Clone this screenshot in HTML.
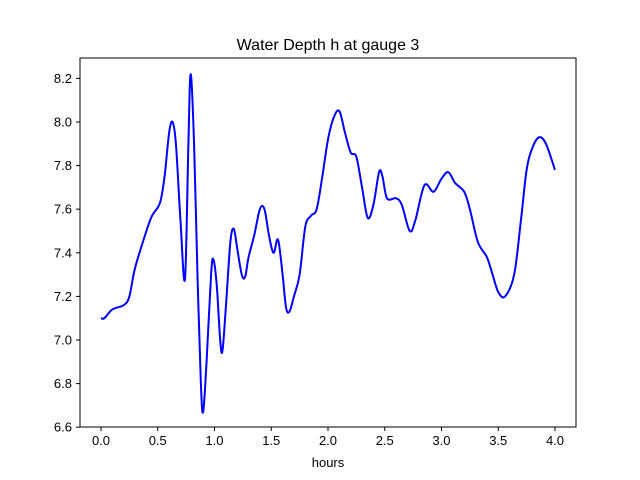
<!DOCTYPE html>
<html><head><meta charset="utf-8"><style>
body{margin:0;background:#fff;}
svg{display:block;font-family:"Liberation Sans","DejaVu Sans",sans-serif;}
</style></head><body>
<svg id="chart" width="640" height="480">
<rect x="0" y="0" width="640" height="480" fill="#fff"/>
<text x="328" y="50" text-anchor="middle" font-size="16">Water Depth h at gauge 3</text>
<g id="ticks"></g>
<path id="line" fill="none" stroke="#0000ff" stroke-width="2"/>
<rect x="80" y="58" width="496" height="369" fill="none" stroke="#000" stroke-width="1"/>
<text x="328" y="467" text-anchor="middle" font-size="13">hours</text>
</svg>
<script>
const times=[0,0.03,0.1,0.2,0.25,0.3,0.4,0.45,0.52,0.56,0.6,0.63,0.66,0.7,0.74,0.77,0.79,0.82,0.85,0.88,0.9,0.93,0.97,0.99,1.02,1.05,1.07,1.1,1.14,1.17,1.2,1.24,1.27,1.3,1.35,1.4,1.44,1.48,1.52,1.56,1.6,1.63,1.66,1.7,1.75,1.8,1.85,1.9,1.95,2.0,2.05,2.1,2.15,2.2,2.25,2.3,2.35,2.4,2.45,2.48,2.52,2.6,2.65,2.72,2.77,2.85,2.93,3.0,3.06,3.12,3.2,3.25,3.32,3.4,3.45,3.5,3.56,3.64,3.7,3.75,3.8,3.86,3.92,4.0];
const depths=[7.10,7.10,7.14,7.16,7.2,7.33,7.5,7.57,7.63,7.75,7.95,8.0,7.9,7.55,7.28,7.9,8.22,7.9,7.3,6.8,6.67,6.9,7.3,7.37,7.25,7.0,6.95,7.15,7.45,7.51,7.42,7.3,7.29,7.38,7.48,7.6,7.6,7.48,7.4,7.46,7.3,7.15,7.13,7.2,7.3,7.52,7.57,7.6,7.75,7.92,8.02,8.05,7.95,7.86,7.84,7.7,7.56,7.62,7.77,7.75,7.65,7.65,7.62,7.5,7.55,7.71,7.68,7.74,7.77,7.72,7.68,7.6,7.45,7.38,7.3,7.22,7.2,7.3,7.55,7.78,7.88,7.93,7.9,7.78];
const xTicks=[0,0.5,1,1.5,2,2.5,3,3.5,4];
const xTickLabels=["0.0","0.5","1.0","1.5","2.0","2.5","3.0","3.5","4.0"];
const yTicks=[6.6,6.8,7.0,7.2,7.4,7.6,7.8,8.0,8.2];
const yTickLabels=["6.6","6.8","7.0","7.2","7.4","7.6","7.8","8.0","8.2"];
const xs=t=>101+t*113.5;
const ys=v=>340-(v-7)*218;
const NS="http://www.w3.org/2000/svg";
const g=document.getElementById('ticks');
xTicks.forEach((t,i)=>{
 const l=document.createElementNS(NS,'line');
 l.setAttribute('x1',xs(t));l.setAttribute('x2',xs(t));l.setAttribute('y1',427);l.setAttribute('y2',431);l.setAttribute('stroke','#000');
 
 
 g.appendChild(l);
 const tx=document.createElementNS(NS,'text');
 tx.setAttribute('x',xs(t));tx.setAttribute('y',445);tx.setAttribute('text-anchor','middle');tx.setAttribute('font-size','13');
 tx.textContent=xTickLabels[i];
 
 
 g.appendChild(tx);
});
yTicks.forEach((v,i)=>{
 const l=document.createElementNS(NS,'line');
 l.setAttribute('x1',76);l.setAttribute('x2',80);l.setAttribute('y1',ys(v));l.setAttribute('y2',ys(v));l.setAttribute('stroke','#000');
 
 
 g.appendChild(l);
 const tx=document.createElementNS(NS,'text');
 tx.setAttribute('x',72);tx.setAttribute('y',ys(v)+4.5);tx.setAttribute('text-anchor','end');tx.setAttribute('font-size','13');
 tx.textContent=yTickLabels[i];
 
 
 g.appendChild(tx);
});
const P=times.map((t,i)=>[xs(t),ys(depths[i])]);
let d='M'+P[0][0]+','+P[0][1];
for(let i=0;i<P.length-1;i++){
 const p0=P[Math.max(0,i-1)],p1=P[i],p2=P[i+1],p3=P[Math.min(P.length-1,i+2)];
 const c1=[p1[0]+(p2[0]-p0[0])/6,p1[1]+(p2[1]-p0[1])/6];
 const c2=[p2[0]-(p3[0]-p1[0])/6,p2[1]-(p3[1]-p1[1])/6];
 d+=' C'+c1+' '+c2+' '+p2;
}
document.getElementById('line').setAttribute('d',d);
</script>
</body></html>
